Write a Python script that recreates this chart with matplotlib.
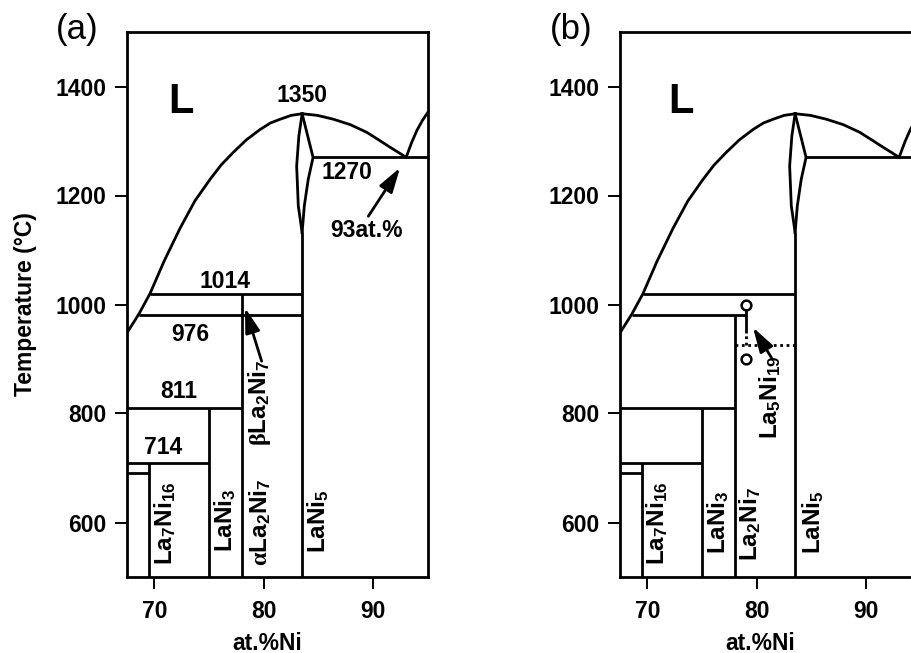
"""
La-Ni phase diagram, Ni-rich side: (a) and (b) panels
"""

import matplotlib.pyplot as plt

plt.rcParams['font.family'] = ['Liberation Sans', 'DejaVu Sans']
plt.rcParams['font.weight'] = 'bold'
plt.rcParams['mathtext.fontset'] = 'custom'
plt.rcParams['mathtext.bf'] = 'Liberation Sans:bold'
plt.rcParams['mathtext.rm'] = 'Liberation Serif'

# liquidus (at.%Ni, degC)
liq_left_x = [67.5, 68.6, 69.6, 70.9, 72.35, 73.7, 75.1, 76.1, 77.2,
              78.4, 79.65, 80.6, 81.5, 82.5, 83.5]
liq_left_y = [948, 983, 1020, 1080, 1140, 1190, 1230, 1256, 1279,
              1302, 1321, 1333, 1340, 1347, 1350]
liq_right_x = [83.5, 84.9, 86.35, 87.9, 89.4, 90.5, 91.5, 92.3, 93.0]
liq_right_y = [1350, 1347, 1340, 1330, 1316, 1302, 1289, 1279, 1270]
liq_ni_x = [93.0, 93.5, 94.0, 94.5, 95.0]
liq_ni_y = [1270, 1297, 1320, 1338, 1353]

# LaNi5 homogeneity lens
lens_left_x = [83.5, 83.2, 83.0, 83.15, 83.5]
lens_left_y = [1350, 1309, 1254, 1181, 1132]
lens_right_x = [83.5, 84.5, 84.06, 83.7, 83.5]
lens_right_y = [1350, 1270, 1230, 1181, 1132]

# horizontal lines (x from, x to, T) and vertical lines (x, T from, T to)
hlines_a = [(69.6, 83.5, 1020), (68.6, 83.5, 980), (67.5, 78.0, 810),
            (67.5, 75.0, 709), (67.5, 69.5, 690), (84.5, 95.0, 1270)]
vlines_a = [(78.0, 500, 1020), (75.0, 500, 810), (69.5, 500, 709),
            (83.5, 500, 1132)]

hlines_b = [(69.6, 83.5, 1020), (68.6, 79.0, 980), (67.5, 78.0, 810),
            (67.5, 75.0, 709), (67.5, 69.5, 690), (84.5, 95.0, 1270)]
vlines_b = [(78.0, 500, 980), (75.0, 500, 810), (69.5, 500, 709),
            (83.5, 500, 1132), (79.0, 948, 1000)]
dotted_b = [((78.0, 83.5), (925, 925)), ((79.0, 79.0), (925, 948))]
circles_x = [79.0, 79.0]
circles_y = [1000, 900]

# temperature labels (text, x, y)
temps_a = [('1350', 83.5, 1383), ('1270', 87.6, 1242), ('1014', 76.45, 1043),
           ('976', 73.25, 945), ('811', 72.2, 841), ('714', 70.8, 737)]

# phase labels, rotated (text, x, y)
phases_a = [(r'$\mathbf{La_7Ni_{16}}$', 70.95, 599),
            (r'$\mathbf{LaNi_3}$', 76.45, 605),
            (r'$\mathrm{\alpha}\mathbf{La_2Ni_7}$', 79.65, 600),
            (r'$\mathrm{\beta}\mathbf{La_2Ni_7}$', 79.65, 820),
            (r'$\mathbf{LaNi_5}$', 84.95, 602)]
phases_b = [(r'$\mathbf{La_7Ni_{16}}$', 70.9, 598),
            (r'$\mathbf{LaNi_3}$', 76.45, 601),
            (r'$\mathbf{La_2Ni_7}$', 79.35, 598),
            (r'$\mathbf{La_5Ni_{19}}$', 81.2, 829),
            (r'$\mathbf{LaNi_5}$', 85.15, 600)]

# arrows (tail, head)
arrows_a = [((89.55, 1162), (92.45, 1251)), ((79.8, 896), (78.28, 994))]
arrows_b = [((81.35, 902), (79.65, 958))]

xticks = [70, 80, 90]
yticks = [600, 800, 1000, 1200, 1400]

LW = 2.0
FS = 16.5


def base_panel(ax, hlines, vlines):
    ax.plot(liq_left_x, liq_left_y, 'k-', lw=LW)
    ax.plot(liq_right_x, liq_right_y, 'k-', lw=LW)
    ax.plot(liq_ni_x, liq_ni_y, 'k-', lw=LW)
    ax.plot(lens_left_x, lens_left_y, 'k-', lw=LW)
    ax.plot(lens_right_x, lens_right_y, 'k-', lw=LW)
    for x0, x1, y in hlines:
        ax.plot([x0, x1], [y, y], 'k-', lw=LW, solid_capstyle='butt')
    for x, y0, y1 in vlines:
        ax.plot([x, x], [y0, y1], 'k-', lw=LW, solid_capstyle='butt')
    ax.set_xlim(67.5, 95.0)
    ax.set_ylim(500, 1500)
    ax.set_xticks(xticks)
    ax.set_yticks(yticks)
    ax.tick_params(direction='out', length=8.5, width=1.4, labelsize=FS)
    ax.tick_params(axis='y', pad=6)
    ax.tick_params(axis='x', pad=8)
    for s in ax.spines.values():
        s.set_linewidth(2.0)
    ax.set_xlabel('at.%Ni', fontsize=FS, fontweight='bold')
    ax.xaxis.set_label_coords(0.465, -0.100)


def arrow(ax, tail, head):
    ax.annotate('', xy=head, xytext=tail,
                arrowprops=dict(arrowstyle='-|>,head_length=1.0,head_width=0.3',
                                mutation_scale=15, lw=LW, color='k',
                                shrinkA=0, shrinkB=0))


fig = plt.figure(figsize=(9.12, 6.53), dpi=100)
ax_a = fig.add_axes([127 / 912, 76 / 653, 301 / 912, 545 / 653])
ax_b = fig.add_axes([620 / 912, 76 / 653, 301 / 912, 545 / 653])

# (a)
base_panel(ax_a, hlines_a, vlines_a)
ax_a.set_ylabel('Temperature (°C)', fontsize=FS, fontweight='bold')
ax_a.yaxis.set_label_coords(-0.30, 0.5)
ax_a.text(72.45, 1371, 'L', fontsize=30, ha='center', va='center')
for t, x, y in temps_a:
    ax_a.text(x, y, t, fontsize=FS, ha='center', va='center')
for t, x, y in phases_a:
    ax_a.text(x, y, t, fontsize=17.5, rotation=90, ha='center', va='center')
ax_a.text(89.4, 1135, '93at.%', fontsize=FS, ha='center', va='center')
for tail, head in arrows_a:
    arrow(ax_a, tail, head)

# (b)
base_panel(ax_b, hlines_b, vlines_b)
ax_b.text(73.1, 1371, 'L', fontsize=30, ha='center', va='center')
for t, x, y in phases_b:
    ax_b.text(x, y, t, fontsize=17.5, rotation=90, ha='center', va='center')
for xs, ys in dotted_b:
    ax_b.plot(xs, ys, color='k', lw=LW, linestyle=(0, (1.0, 1.3)))
ax_b.plot(circles_x, circles_y, 'o', ms=7, mfc='white', mec='k', mew=1.8)
for tail, head in arrows_b:
    arrow(ax_b, tail, head)

fig.text(77 / 912, 1 - 30 / 653, '(a)', fontsize=25, fontweight='normal',
         ha='center', va='center')
fig.text(571 / 912, 1 - 30 / 653, '(b)', fontsize=25, fontweight='normal',
         ha='center', va='center')

fig.savefig('out.png', dpi=100)
